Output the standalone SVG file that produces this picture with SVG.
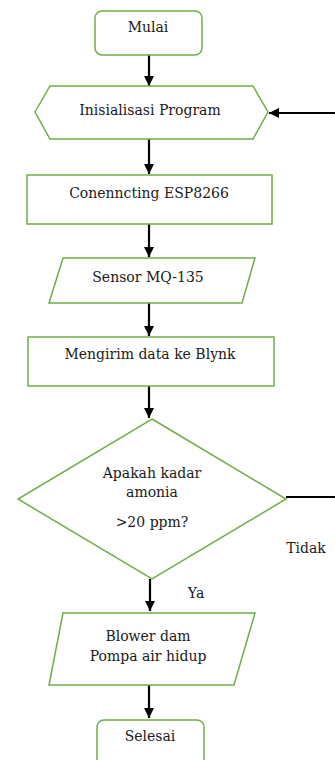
<svg xmlns="http://www.w3.org/2000/svg" width="335" height="760" viewBox="0 0 335 760">
<defs>
<marker id="ah" markerUnits="userSpaceOnUse" markerWidth="10" markerHeight="10" refX="10" refY="5" orient="auto">
<path d="M0,0 L10,5 L0,10 z" fill="#000"/>
</marker>
<style>
.n{fill:#fff;stroke:#70AD47;stroke-width:1.5}
.t{font-family:'DejaVu Serif','Liberation Serif',serif;font-size:14px;fill:#1a1a1a;text-anchor:middle}
.c{stroke:#000;stroke-width:2.2;fill:none}
.a{marker-end:url(#ah)}
</style>
</defs>
<rect width="335" height="760" fill="#fff"/>
<g id="connectors">
<line class="c a" x1="149" y1="55" x2="149" y2="86"/>
<line class="c a" x1="335" y1="113" x2="269" y2="113"/>
<line class="c a" x1="149" y1="139" x2="149" y2="174"/>
<line class="c a" x1="149" y1="224" x2="149" y2="257"/>
<line class="c a" x1="149" y1="303" x2="149" y2="336"/>
<line class="c a" x1="149" y1="386" x2="149" y2="418"/>
<line class="c" x1="286" y1="497" x2="335" y2="497"/>
<line class="c a" x1="150" y1="579" x2="150" y2="611"/>
<line class="c a" x1="149" y1="685" x2="149" y2="718"/>
<text class="t" x="306" y="553">Tidak</text>
<text class="t" x="196" y="598">Ya</text>
</g>
<g id="mulai">
<rect class="n" x="95" y="11" width="107" height="44" rx="7"/>
<text class="t" x="148" y="32">Mulai</text>
</g>
<g id="inisialisasi">
<polygon class="n" points="35,112 50,86 253,86 268,112 253,139 50,139"/>
<text class="t" x="150" y="115">Inisialisasi Program</text>
</g>
<g id="connecting">
<rect class="n" x="27" y="175" width="245" height="49"/>
<text class="t" x="149" y="198">Conenncting ESP8266</text>
</g>
<g id="sensor">
<polygon class="n" points="63,258 255,258 242,303 49,303"/>
<text class="t" x="148" y="282">Sensor MQ-135</text>
</g>
<g id="mengirim">
<rect class="n" x="28" y="337" width="246" height="49"/>
<text class="t" x="150" y="359">Mengirim data ke Blynk</text>
</g>
<g id="keputusan">
<polygon class="n" points="152,419 286,499 152,579 18,499"/>
<text class="t" x="152" y="478">Apakah kadar</text>
<text class="t" x="152" y="497">amonia</text>
<text class="t" x="152" y="527">&gt;20 ppm?</text>
</g>
<g id="blower">
<polygon class="n" points="63,613 255,613 234,685 49,685"/>
<text class="t" x="148" y="641">Blower dam</text>
<text class="t" x="148" y="661">Pompa air hidup</text>
</g>
<g id="selesai">
<rect class="n" x="97" y="720" width="107" height="50" rx="7"/>
<text class="t" x="150" y="741">Selesai</text>
</g>
</svg>
